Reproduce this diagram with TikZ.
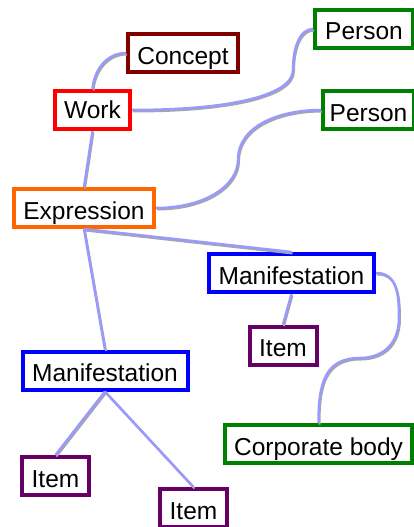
\documentclass[tikz,border=0pt]{standalone}
\usepackage{fontspec}
\setmainfont{Liberation Sans}
\usetikzlibrary{positioning}
\usepackage{xcolor}
\definecolor{conceptred}{HTML}{800000}
\definecolor{workred}{HTML}{FF0000}
\definecolor{persongreen}{HTML}{008000}
\definecolor{exprorange}{HTML}{FF6600}
\definecolor{manifblue}{HTML}{0000FF}
\definecolor{itempurple}{HTML}{660066}
\definecolor{linkblue}{HTML}{9999FF}
\tikzstyle{link} = [line width=2.5pt, draw=linkblue, preaction={draw=black!35, line width=2pt, transform canvas={shift={(1pt,-1.5pt)}}}]

\begin{document}
\begin{tikzpicture}[
    x=1pt, y=-1pt,
    box/.style={draw, line width=4pt, fill=white, minimum height=38pt, text height=22pt, text depth=0pt, font=\fontsize{24.5}{29}\selectfont}
  ]
  \useasboundingbox (0,0) rectangle (413,527);

  \node[box, draw=conceptred, minimum width=110pt] (concept) at (183,53) {Concept};
  \node[box, draw=persongreen, minimum width=98pt] (persA) at (364,29) {Person};
  \node[box, draw=workred, minimum width=75pt, text height=17pt] (work) at (92.5,110) {Work};
  \node[box, draw=persongreen, minimum width=91pt] (persB) at (368.5,110) {Person};
  \node[box, draw=exprorange, minimum width=140pt] (expr) at (84,208) {Expression};
  \node[box, draw=manifblue, minimum width=165pt] (manA) at (291.5,273) {Manifestation};
  \node[box, draw=itempurple, minimum width=67pt] (itemA) at (283,345.5) {Item};
  \node[box, draw=manifblue, minimum width=165pt] (manB) at (105,370.5) {Manifestation};
  \node[box, draw=persongreen, minimum width=187pt] (corp) at (318.5,444) {Corporate body};
  \node[box, draw=itempurple, minimum width=67pt] (itemB) at (55.5,476) {Item};
  \node[box, draw=itempurple, minimum width=67pt] (itemC) at (193.5,508) {Item};

  \draw[link] (work.north) to[out=85, in=180] (concept.west);
  \draw[link] (work.east) .. controls +(100,0) and +(0,25) .. ++(161,-40)
    .. controls +(0,-25) and +(-12,0) .. (persA.west);
  \draw[link] (work.south) -- (expr.north);
  \draw[link] (expr.east) .. controls +(50,0) and +(0,25) .. ++(82,-48)
    .. controls +(0,-35) and +(-40,0) .. (persB.west);
  \draw[link] (expr.south) -- (manA.north);
  \draw[link] (expr.south) -- (manB.north);
  \draw[link] (manA.south) -- (itemA.north);
  \draw[link] (manA.east) .. controls +(20,0) and +(0,-25) .. ++(23,44)
    .. controls +(0,30) and +(20,0) .. ++(-39,41)
    .. controls +(-35,0) and +(0,-40) .. (corp.north);
  \draw[link] (manB.south) -- (itemB.north);
  \draw[link] (manB.south) -- (itemC.north);

\end{tikzpicture}
\end{document}
